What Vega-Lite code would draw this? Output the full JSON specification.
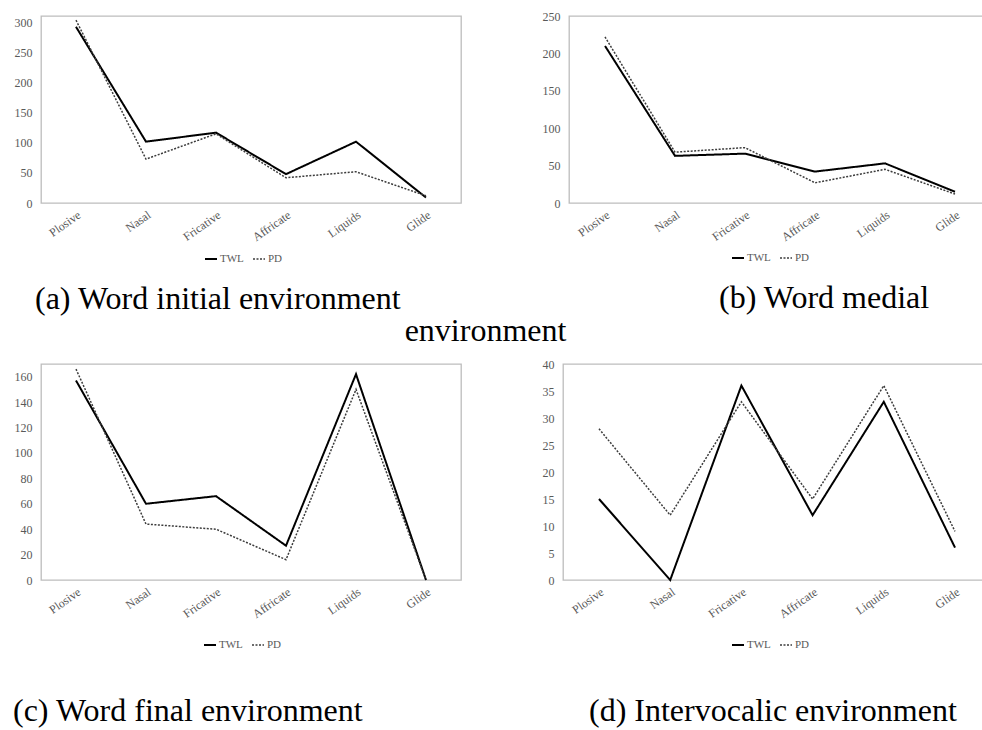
{
  "$schema": "https://vega.github.io/schema/vega-lite/v6.json",
  "padding": {"left": 12, "top": 9, "right": 0, "bottom": 0},
  "background": "white",
  "config": {
    "font": "Liberation Serif",
    "view": {"stroke": "#bdbdbd", "strokeWidth": 1.3},
    "axis": {"grid": false, "ticks": false, "domain": false, "title": null, "labelFont": "Liberation Serif", "labelColor": "#595959", "labelFontSize": 12},
    "axisY": {"labelPadding": 9},
    "axisX": {"labelAngle": -35, "labelPadding": 6},
    "title": {"font": "Liberation Serif", "fontSize": 32, "fontWeight": "normal", "color": "#000000", "orient": "bottom", "anchor": "start", "frame": "group", "baseline": "alphabetic"},
    "line": {"strokeJoin": "miter", "strokeCap": "butt"}
  },
  "data": {"values": [
    {"panel": "a", "series": "TWL", "cat": "Plosive", "value": 293},
    {"panel": "a", "series": "TWL", "cat": "Nasal", "value": 102},
    {"panel": "a", "series": "TWL", "cat": "Fricative", "value": 117},
    {"panel": "a", "series": "TWL", "cat": "Affricate", "value": 48},
    {"panel": "a", "series": "TWL", "cat": "Liquids", "value": 102},
    {"panel": "a", "series": "TWL", "cat": "Glide", "value": 9},
    {"panel": "a", "series": "PD", "cat": "Plosive", "value": 304},
    {"panel": "a", "series": "PD", "cat": "Nasal", "value": 73},
    {"panel": "a", "series": "PD", "cat": "Fricative", "value": 115},
    {"panel": "a", "series": "PD", "cat": "Affricate", "value": 42},
    {"panel": "a", "series": "PD", "cat": "Liquids", "value": 52},
    {"panel": "a", "series": "PD", "cat": "Glide", "value": 12},
    {"panel": "b", "series": "TWL", "cat": "Plosive", "value": 210},
    {"panel": "b", "series": "TWL", "cat": "Nasal", "value": 63},
    {"panel": "b", "series": "TWL", "cat": "Fricative", "value": 66},
    {"panel": "b", "series": "TWL", "cat": "Affricate", "value": 42},
    {"panel": "b", "series": "TWL", "cat": "Liquids", "value": 53},
    {"panel": "b", "series": "TWL", "cat": "Glide", "value": 15},
    {"panel": "b", "series": "PD", "cat": "Plosive", "value": 222},
    {"panel": "b", "series": "PD", "cat": "Nasal", "value": 68},
    {"panel": "b", "series": "PD", "cat": "Fricative", "value": 74},
    {"panel": "b", "series": "PD", "cat": "Affricate", "value": 27},
    {"panel": "b", "series": "PD", "cat": "Liquids", "value": 45},
    {"panel": "b", "series": "PD", "cat": "Glide", "value": 12},
    {"panel": "c", "series": "TWL", "cat": "Plosive", "value": 157},
    {"panel": "c", "series": "TWL", "cat": "Nasal", "value": 60},
    {"panel": "c", "series": "TWL", "cat": "Fricative", "value": 66},
    {"panel": "c", "series": "TWL", "cat": "Affricate", "value": 27},
    {"panel": "c", "series": "TWL", "cat": "Liquids", "value": 162},
    {"panel": "c", "series": "TWL", "cat": "Glide", "value": 0},
    {"panel": "c", "series": "PD", "cat": "Plosive", "value": 166},
    {"panel": "c", "series": "PD", "cat": "Nasal", "value": 44},
    {"panel": "c", "series": "PD", "cat": "Fricative", "value": 40},
    {"panel": "c", "series": "PD", "cat": "Affricate", "value": 16},
    {"panel": "c", "series": "PD", "cat": "Liquids", "value": 150},
    {"panel": "c", "series": "PD", "cat": "Glide", "value": 0},
    {"panel": "d", "series": "TWL", "cat": "Plosive", "value": 15},
    {"panel": "d", "series": "TWL", "cat": "Nasal", "value": 0},
    {"panel": "d", "series": "TWL", "cat": "Fricative", "value": 36},
    {"panel": "d", "series": "TWL", "cat": "Affricate", "value": 12},
    {"panel": "d", "series": "TWL", "cat": "Liquids", "value": 33},
    {"panel": "d", "series": "TWL", "cat": "Glide", "value": 6},
    {"panel": "d", "series": "PD", "cat": "Plosive", "value": 28},
    {"panel": "d", "series": "PD", "cat": "Nasal", "value": 12},
    {"panel": "d", "series": "PD", "cat": "Fricative", "value": 33},
    {"panel": "d", "series": "PD", "cat": "Affricate", "value": 15},
    {"panel": "d", "series": "PD", "cat": "Liquids", "value": 36},
    {"panel": "d", "series": "PD", "cat": "Glide", "value": 9}
  ]},
  "spacing": 10,
  "resolve": {
    "scale": {"x": "independent", "y": "independent", "stroke": "independent", "strokeDash": "independent", "strokeWidth": "independent"},
    "legend": {"stroke": "independent", "strokeDash": "independent", "strokeWidth": "independent"}
  },
  "vconcat": [
    {
      "bounds": "flush",
      "spacing": 108,
      "title": {"text": "environment", "anchor": "middle", "frame": "bounds", "offset": 0, "dx": -13},
      "resolve": {
        "scale": {"x": "independent", "y": "independent", "stroke": "independent", "strokeDash": "independent", "strokeWidth": "independent"},
        "legend": {"stroke": "independent", "strokeDash": "independent", "strokeWidth": "independent"}
      },
      "hconcat": [
        {
          "width": 420, "height": 187,
          "title": {"text": "(a) Word initial environment", "dx": -6, "offset": 20},
          "transform": [{"filter": "datum.panel === 'a'"}],
          "mark": {"type": "line"},
          "encoding": {
            "x": {"field": "cat", "type": "nominal", "scale": {"domain": ["Plosive", "Nasal", "Fricative", "Affricate", "Liquids", "Glide"], "padding": 0.5}},
            "y": {"field": "value", "type": "quantitative", "scale": {"domain": [0, 311], "nice": false}, "axis": {"values": [0, 50, 100, 150, 200, 250, 300]}},
            "stroke": {"field": "series", "type": "nominal", "scale": {"domain": ["TWL", "PD"], "range": ["#000000", "#3c3c3c"]}, "legend": {"orient": "none", "legendX": 163, "legendY": 236, "direction": "horizontal", "title": null, "symbolType": "stroke", "symbolSize": 144, "labelFont": "Liberation Serif", "labelFontSize": 11, "labelColor": "#595959", "columnPadding": 6, "labelOffset": 2}},
            "strokeDash": {"field": "series", "type": "nominal", "scale": {"domain": ["TWL", "PD"], "range": [[1, 0], [2, 1.5]]}, "legend": {"orient": "none", "legendX": 163, "legendY": 236, "direction": "horizontal", "title": null, "symbolType": "stroke", "symbolSize": 144, "labelFont": "Liberation Serif", "labelFontSize": 11, "labelColor": "#595959", "columnPadding": 6, "labelOffset": 2}},
            "strokeWidth": {"field": "series", "type": "nominal", "scale": {"domain": ["TWL", "PD"], "range": [2, 1.5]}, "legend": {"orient": "none", "legendX": 163, "legendY": 236, "direction": "horizontal", "title": null, "symbolType": "stroke", "symbolSize": 144, "labelFont": "Liberation Serif", "labelFontSize": 11, "labelColor": "#595959", "columnPadding": 6, "labelOffset": 2}}
          }
        },
        {
          "width": 414, "height": 187,
          "title": {"text": "(b) Word medial", "dx": 150, "offset": 20},
          "transform": [{"filter": "datum.panel === 'b'"}],
          "mark": {"type": "line"},
          "encoding": {
            "x": {"field": "cat", "type": "nominal", "scale": {"domain": ["Plosive", "Nasal", "Fricative", "Affricate", "Liquids", "Glide"], "padding": 0, "range": [36, 386]}},
            "y": {"field": "value", "type": "quantitative", "scale": {"domain": [0, 250], "nice": false}, "axis": {"values": [0, 50, 100, 150, 200, 250]}},
            "stroke": {"field": "series", "type": "nominal", "scale": {"domain": ["TWL", "PD"], "range": ["#000000", "#3c3c3c"]}, "legend": {"orient": "none", "legendX": 162, "legendY": 235, "direction": "horizontal", "title": null, "symbolType": "stroke", "symbolSize": 144, "labelFont": "Liberation Serif", "labelFontSize": 11, "labelColor": "#595959", "columnPadding": 6, "labelOffset": 2}},
            "strokeDash": {"field": "series", "type": "nominal", "scale": {"domain": ["TWL", "PD"], "range": [[1, 0], [2, 1.5]]}, "legend": {"orient": "none", "legendX": 162, "legendY": 235, "direction": "horizontal", "title": null, "symbolType": "stroke", "symbolSize": 144, "labelFont": "Liberation Serif", "labelFontSize": 11, "labelColor": "#595959", "columnPadding": 6, "labelOffset": 2}},
            "strokeWidth": {"field": "series", "type": "nominal", "scale": {"domain": ["TWL", "PD"], "range": [2, 1.5]}, "legend": {"orient": "none", "legendX": 162, "legendY": 235, "direction": "horizontal", "title": null, "symbolType": "stroke", "symbolSize": 144, "labelFont": "Liberation Serif", "labelFontSize": 11, "labelColor": "#595959", "columnPadding": 6, "labelOffset": 2}}
          }
        }
      ]
    },
    {
      "bounds": "flush",
      "spacing": 102,
      "resolve": {
        "scale": {"x": "independent", "y": "independent", "stroke": "independent", "strokeDash": "independent", "strokeWidth": "independent"},
        "legend": {"stroke": "independent", "strokeDash": "independent", "strokeWidth": "independent"}
      },
      "hconcat": [
        {
          "width": 420, "height": 216,
          "title": {"text": "(c) Word final environment", "dx": -28, "offset": 46},
          "transform": [{"filter": "datum.panel === 'c'"}],
          "mark": {"type": "line"},
          "encoding": {
            "x": {"field": "cat", "type": "nominal", "scale": {"domain": ["Plosive", "Nasal", "Fricative", "Affricate", "Liquids", "Glide"], "padding": 0.5}},
            "y": {"field": "value", "type": "quantitative", "scale": {"domain": [0, 170], "nice": false}, "axis": {"values": [0, 20, 40, 60, 80, 100, 120, 140, 160]}},
            "stroke": {"field": "series", "type": "nominal", "scale": {"domain": ["TWL", "PD"], "range": ["#000000", "#3c3c3c"]}, "legend": {"orient": "none", "legendX": 162, "legendY": 274, "direction": "horizontal", "title": null, "symbolType": "stroke", "symbolSize": 144, "labelFont": "Liberation Serif", "labelFontSize": 11, "labelColor": "#595959", "columnPadding": 6, "labelOffset": 2}},
            "strokeDash": {"field": "series", "type": "nominal", "scale": {"domain": ["TWL", "PD"], "range": [[1, 0], [2, 1.5]]}, "legend": {"orient": "none", "legendX": 162, "legendY": 274, "direction": "horizontal", "title": null, "symbolType": "stroke", "symbolSize": 144, "labelFont": "Liberation Serif", "labelFontSize": 11, "labelColor": "#595959", "columnPadding": 6, "labelOffset": 2}},
            "strokeWidth": {"field": "series", "type": "nominal", "scale": {"domain": ["TWL", "PD"], "range": [2, 1.5]}, "legend": {"orient": "none", "legendX": 162, "legendY": 274, "direction": "horizontal", "title": null, "symbolType": "stroke", "symbolSize": 144, "labelFont": "Liberation Serif", "labelFontSize": 11, "labelColor": "#595959", "columnPadding": 6, "labelOffset": 2}}
          }
        },
        {
          "width": 420, "height": 216,
          "title": {"text": "(d) Intervocalic environment", "dx": 26, "offset": 46},
          "transform": [{"filter": "datum.panel === 'd'"}],
          "mark": {"type": "line"},
          "encoding": {
            "x": {"field": "cat", "type": "nominal", "scale": {"domain": ["Plosive", "Nasal", "Fricative", "Affricate", "Liquids", "Glide"], "padding": 0, "range": [36, 392]}},
            "y": {"field": "value", "type": "quantitative", "scale": {"domain": [0, 40], "nice": false}, "axis": {"values": [0, 5, 10, 15, 20, 25, 30, 35, 40]}},
            "stroke": {"field": "series", "type": "nominal", "scale": {"domain": ["TWL", "PD"], "range": ["#000000", "#3c3c3c"]}, "legend": {"orient": "none", "legendX": 168, "legendY": 274, "direction": "horizontal", "title": null, "symbolType": "stroke", "symbolSize": 144, "labelFont": "Liberation Serif", "labelFontSize": 11, "labelColor": "#595959", "columnPadding": 6, "labelOffset": 2}},
            "strokeDash": {"field": "series", "type": "nominal", "scale": {"domain": ["TWL", "PD"], "range": [[1, 0], [2, 1.5]]}, "legend": {"orient": "none", "legendX": 168, "legendY": 274, "direction": "horizontal", "title": null, "symbolType": "stroke", "symbolSize": 144, "labelFont": "Liberation Serif", "labelFontSize": 11, "labelColor": "#595959", "columnPadding": 6, "labelOffset": 2}},
            "strokeWidth": {"field": "series", "type": "nominal", "scale": {"domain": ["TWL", "PD"], "range": [2, 1.5]}, "legend": {"orient": "none", "legendX": 168, "legendY": 274, "direction": "horizontal", "title": null, "symbolType": "stroke", "symbolSize": 144, "labelFont": "Liberation Serif", "labelFontSize": 11, "labelColor": "#595959", "columnPadding": 6, "labelOffset": 2}}
          }
        }
      ]
    }
  ]
}
